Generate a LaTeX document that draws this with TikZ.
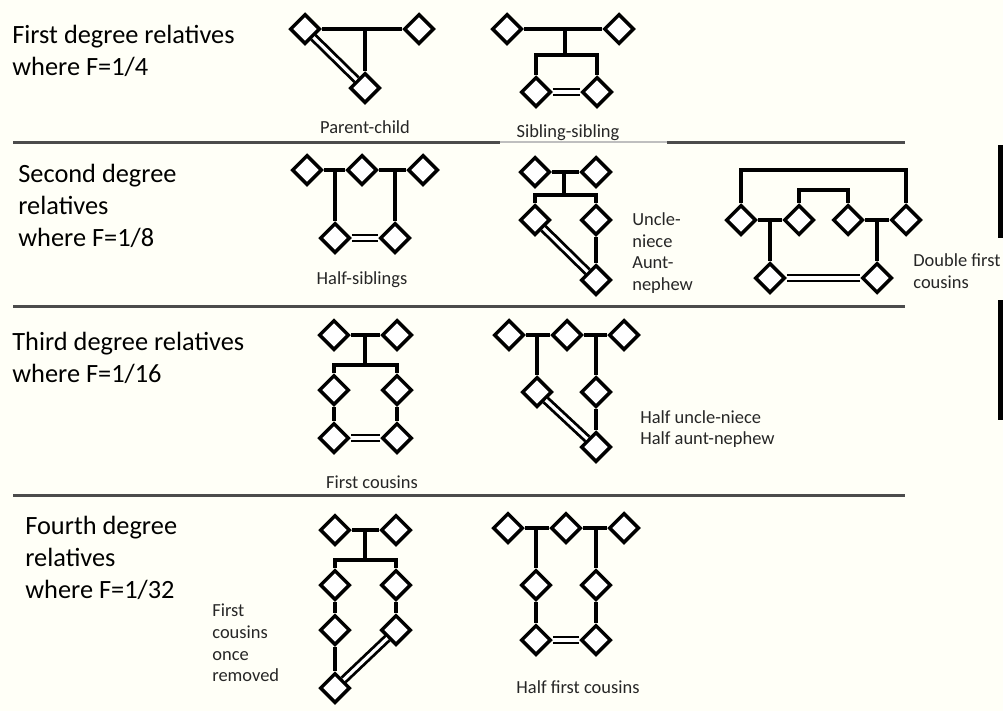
\documentclass[tikz,border=0pt]{standalone}
\usepackage{fontspec}
\setmainfont{Carlito}
\usetikzlibrary{shapes.geometric, calc}

\begin{document}
\begin{tikzpicture}[
    x=0.02cm, y=-0.02cm,
    ind/.style={draw, diamond, aspect=1, minimum size=0.6cm, inner sep=0pt,
                fill=white, line width=2pt},
    rel/.style={line width=2pt},
    cons/.style={double, double distance=1.8pt, line width=1.6pt},
    head/.style={anchor=west, align=left, inner sep=0pt,
                 font=\fontsize{15}{18}\selectfont},
    lab/.style={inner sep=0pt, text=black!85, font=\fontsize{10.5}{12.3}\selectfont},
    side/.style={lab, anchor=west, align=left},
    sepline/.style={line width=1.7pt, draw=black!70},
]
    % Page.
    \fill[white!97!yellow] (0,0) rectangle (1003,711);
    \useasboundingbox (0,0) rectangle (1003,711);
    \fill[black] (998,145) rectangle (1003,238);
    \fill[black] (998,300) rectangle (1003,420);

    % Row separators.
    \draw[sepline] (13,142) -- (500,142);
    \draw[line width=0.6pt, draw=black!25] (500,142) -- (667,142);
    \draw[sepline] (667,142) -- (905,142);
    \foreach \y in {306,495} {
        \draw[sepline] (13,\y) -- (905,\y);
    }

    % Row headings.
    \node[head] (h1) at (12,51)  {First degree relatives\\where F=1/4};
    \node[head] (h2) at (18,206) {Second degree\\relatives\\where F=1/8};
    \node[head] (h3) at (12,358) {Third degree relatives\\where F=1/16};
    \node[head] (h4) at (25,558) {Fourth degree\\relatives\\where F=1/32};

    % Parent-child.
    \node[ind] (pcA) at (305,29) {};
    \node[ind] (pcB) at (419,29) {};
    \node[ind] (pcC) at (365,88) {};
    \coordinate (pcM) at (365,29);
    \draw[rel] (pcA) -- (pcB);
    \draw[rel] (pcM) -- (pcC);
    \draw[cons] (pcA) -- (pcC);
    \node[lab] (pcL) at (365,127) {Parent-child};

    % Sibling-sibling.
    \node[ind] (ssA) at (507,29) {};
    \node[ind] (ssB) at (619,29) {};
    \node[ind] (ssC) at (536,92) {};
    \node[ind] (ssD) at (597,92) {};
    \coordinate (ssM) at (565,29);
    \coordinate (ssS) at (565,55);
    \draw[rel] (ssA) -- (ssB);
    \draw[rel] (ssM) -- (ssS);
    \draw[rel] (ssC) |- (ssS) -| (ssD);
    \draw[cons] (ssC) -- (ssD);
    \node[lab] (ssL) at (568,133) {Sibling-sibling};

    % Half-siblings.
    \node[ind] (hsA) at (307,170) {};
    \node[ind] (hsB) at (362,170) {};
    \node[ind] (hsC) at (423,170) {};
    \node[ind] (hsD) at (335,238) {};
    \node[ind] (hsE) at (395,238) {};
    \coordinate (hsM1) at (335,170);
    \coordinate (hsM2) at (395,170);
    \draw[rel] (hsA) -- (hsB) -- (hsC);
    \draw[rel] (hsM1) -- (hsD);
    \draw[rel] (hsM2) -- (hsE);
    \draw[cons] (hsD) -- (hsE);
    \node[lab] (hsL) at (362,280) {Half-siblings};

    % Uncle-niece.
    \node[ind] (unA) at (535,172) {};
    \node[ind] (unB) at (596,172) {};
    \node[ind] (unC) at (535,220) {};
    \node[ind] (unD) at (596,220) {};
    \node[ind] (unE) at (596,280) {};
    \coordinate (unM) at (564,172);
    \coordinate (unS) at (564,195);
    \draw[rel] (unA) -- (unB);
    \draw[rel] (unM) -- (unS);
    \draw[rel] (unC) |- (unS) -| (unD);
    \draw[rel] (unD) -- (unE);
    \draw[cons] (unC) -- (unE);
    \node[side] (unL) at (632,253) {Uncle-\\niece\\Aunt-\\nephew};

    % Double first cousins.
    \node[ind] (dfA) at (741,220) {};
    \node[ind] (dfB) at (799,220) {};
    \node[ind] (dfC) at (848,220) {};
    \node[ind] (dfD) at (906,220) {};
    \node[ind] (dfE) at (770,278) {};
    \node[ind] (dfF) at (877,278) {};
    \coordinate (dfO) at (823,170);
    \coordinate (dfI) at (823,190);
    \coordinate (dfM1) at (770,220);
    \coordinate (dfM2) at (877,220);
    \draw[rel] (dfA) |- (dfO) -| (dfD);
    \draw[rel] (dfB) |- (dfI) -| (dfC);
    \draw[rel] (dfA) -- (dfB);
    \draw[rel] (dfC) -- (dfD);
    \draw[rel] (dfM1) -- (dfE);
    \draw[rel] (dfM2) -- (dfF);
    \draw[cons] (dfE) -- (dfF);
    \node[side] (dfL) at (913,271) {Double first\\cousins};

    % First cousins.
    \node[ind] (fcA) at (334,335) {};
    \node[ind] (fcB) at (397,335) {};
    \node[ind] (fcC) at (334,390) {};
    \node[ind] (fcD) at (397,390) {};
    \node[ind] (fcE) at (334,438) {};
    \node[ind] (fcF) at (397,438) {};
    \coordinate (fcM) at (365,335);
    \coordinate (fcS) at (365,365);
    \draw[rel] (fcA) -- (fcB);
    \draw[rel] (fcM) -- (fcS);
    \draw[rel] (fcC) |- (fcS) -| (fcD);
    \draw[rel] (fcC) -- (fcE);
    \draw[rel] (fcD) -- (fcF);
    \draw[cons] (fcE) -- (fcF);
    \node[lab] (fcL) at (372,482) {First cousins};

    % Half uncle-niece.
    \node[ind] (huA) at (509,335) {};
    \node[ind] (huB) at (567,335) {};
    \node[ind] (huC) at (624,335) {};
    \node[ind] (huD) at (537,392) {};
    \node[ind] (huE) at (596,392) {};
    \node[ind] (huF) at (596,447) {};
    \coordinate (huM1) at (537,335);
    \coordinate (huM2) at (596,335);
    \draw[rel] (huA) -- (huB) -- (huC);
    \draw[rel] (huM1) -- (huD);
    \draw[rel] (huM2) -- (huE);
    \draw[rel] (huE) -- (huF);
    \draw[cons] (huD) -- (huF);
    \node[side] (huL) at (640,429) {Half uncle-niece\\Half aunt-nephew};

    % First cousins once removed.
    \node[ind] (crA) at (335,530) {};
    \node[ind] (crB) at (396,530) {};
    \node[ind] (crC) at (335,585) {};
    \node[ind] (crD) at (396,585) {};
    \node[ind] (crE) at (335,630) {};
    \node[ind] (crF) at (396,630) {};
    \node[ind] (crG) at (335,688) {};
    \coordinate (crM) at (365,530);
    \coordinate (crS) at (365,560);
    \draw[rel] (crA) -- (crB);
    \draw[rel] (crM) -- (crS);
    \draw[rel] (crC) |- (crS) -| (crD);
    \draw[rel] (crC) -- (crE) -- (crG);
    \draw[rel] (crD) -- (crF);
    \draw[cons] (crF) -- (crG);
    \node[side] (crL) at (212,643) {First\\cousins\\once\\removed};

    % Half first cousins.
    \node[ind] (hfA) at (508,528) {};
    \node[ind] (hfB) at (566,528) {};
    \node[ind] (hfC) at (624,528) {};
    \node[ind] (hfD) at (536,585) {};
    \node[ind] (hfE) at (596,585) {};
    \node[ind] (hfF) at (536,640) {};
    \node[ind] (hfG) at (596,640) {};
    \coordinate (hfM1) at (536,528);
    \coordinate (hfM2) at (596,528);
    \draw[rel] (hfA) -- (hfB) -- (hfC);
    \draw[rel] (hfM1) -- (hfD) -- (hfF);
    \draw[rel] (hfM2) -- (hfE) -- (hfG);
    \draw[cons] (hfF) -- (hfG);
    \node[lab] (hfL) at (578,687) {Half first cousins};
\end{tikzpicture}
\end{document}
